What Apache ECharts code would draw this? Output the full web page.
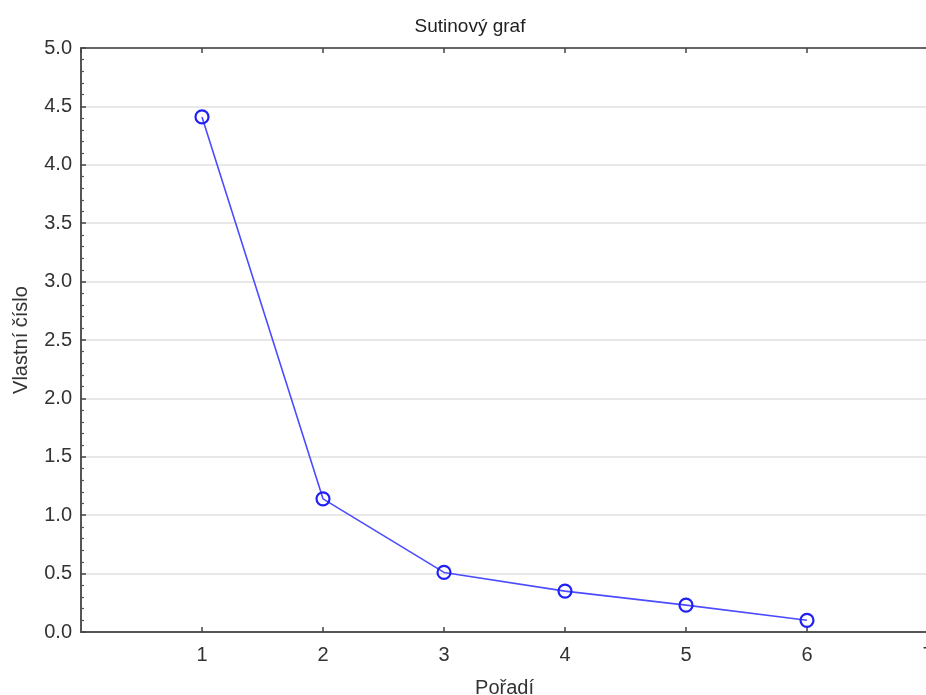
<!DOCTYPE html>
<html><head><meta charset="utf-8">
<script src="https://cdn.jsdelivr.net/npm/echarts@6/dist/echarts.min.js"></script>
<style>html,body{margin:0;padding:0;background:#fff;overflow:hidden}#c{width:926px;height:695px}</style>
</head><body><div id="c"></div>
<script>
var categories = [1, 2, 3, 4, 5, 6];
var eigenvalues = [4.41, 1.14, 0.51, 0.35, 0.23, 0.10];
var yTicks = [0.0, 0.5, 1.0, 1.5, 2.0, 2.5, 3.0, 3.5, 4.0, 4.5, 5.0];

var font = 'Liberation Sans, Arial, sans-serif';
var chart = echarts.init(document.getElementById('c'));
chart.setOption({
  animation: false,
  title: { text: 'Sutinový graf', left: 465, top: 12, textAlign: 'center',
    textStyle: { fontFamily: font, fontSize: 19, fontWeight: 'normal', color: '#222' } },
  grid: { left: 81, top: 48, width: 847, height: 584, outerBoundsMode: 'none', containLabel: false },
  xAxis: [{
    type: 'value', min: 0, max: 7, interval: 1, position: 'bottom',
    name: 'Pořadí', nameLocation: 'middle', nameGap: 46,
    nameTextStyle: { fontFamily: font, fontSize: 20, color: '#333' },
    axisLine: { lineStyle: { color: '#555', width: 2 } },
    axisTick: { inside: true, length: 5, lineStyle: { color: '#444', width: 1.5 } },
    axisLabel: { fontFamily: font, fontSize: 20, color: '#333', margin: 13, showMinLabel: false,
      hideOverlap: false,
      formatter: function (v) { return v === 0 ? '' : String(v); } },
    splitLine: { show: false }
  }, {
    type: 'value', min: 0, max: 7, interval: 1, position: 'top',
    axisLine: { lineStyle: { color: '#666', width: 2 } },
    axisTick: { inside: true, length: 5, lineStyle: { color: '#444', width: 1.5 } },
    axisLabel: { show: false }, splitLine: { show: false }
  }],
  yAxis: [{
    type: 'value', min: 0, max: 5, interval: 0.5,
    name: 'Vlastní číslo', nameLocation: 'middle', nameGap: 50, nameRotate: 90,
    nameTextStyle: { fontFamily: font, fontSize: 20, color: '#333' },
    axisLine: { show: true, lineStyle: { color: '#555', width: 2 } },
    axisTick: { show: true, inside: true, length: 5, lineStyle: { color: '#444', width: 1.5 } },
    minorTick: { show: true, splitNumber: 5, length: 3, lineStyle: { color: '#555', width: 1.2 } },
    axisLabel: { fontFamily: font, fontSize: 20, color: '#333', margin: 9,
      formatter: function (v) { return v.toFixed(1); } },
    splitLine: { show: true, lineStyle: { color: '#e0e0e0', width: 1.5 } }
  }],
  series: [{
    type: 'line',
    data: categories.map(function (c, i) { return [c, eigenvalues[i]]; }),
    symbol: 'circle', symbolSize: 13,
    lineStyle: { color: '#4c4cff', width: 1.6 },
    itemStyle: { color: 'rgba(0,0,0,0)', borderColor: '#2020f5', borderWidth: 2.2 },
    z: 5
  }]
});
</script></body></html>
